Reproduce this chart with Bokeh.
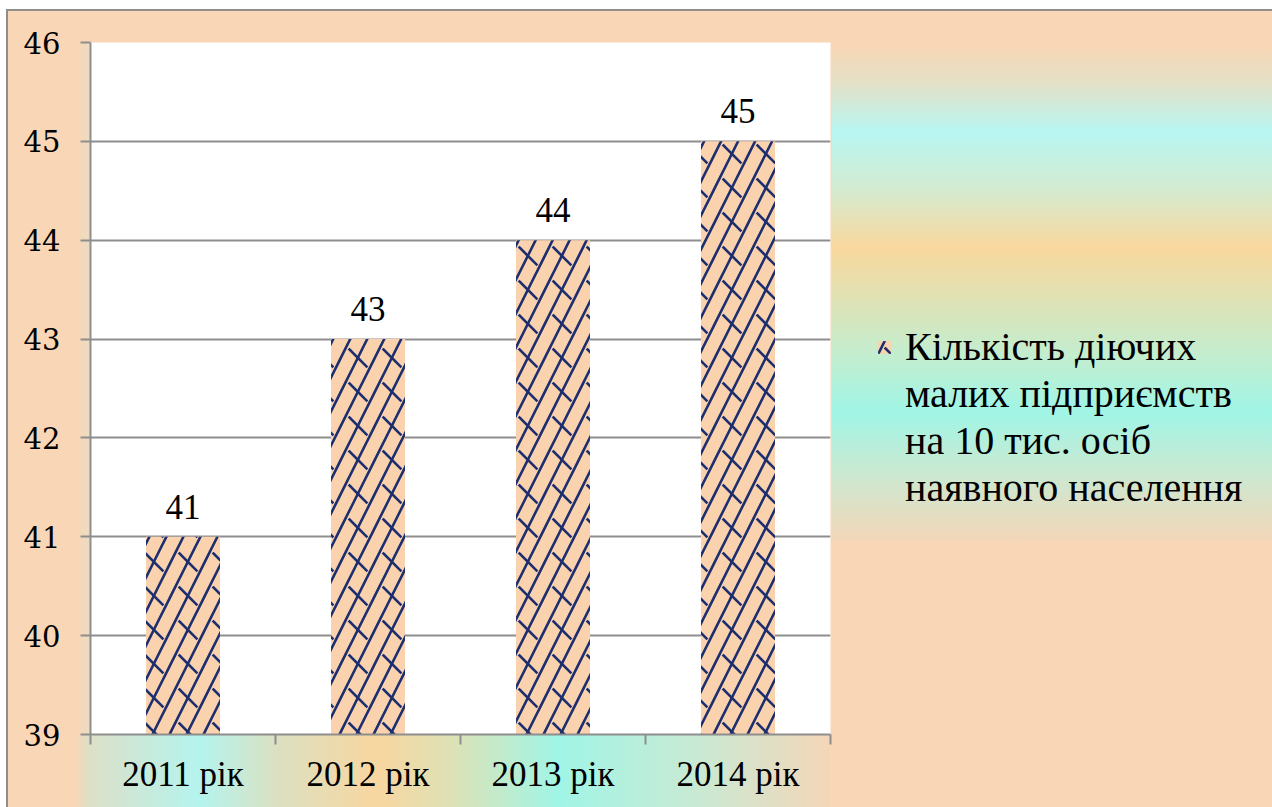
from bokeh.plotting import figure
from bokeh.layouts import row
from bokeh.models import (ColumnDataSource, Range1d, FixedTicker, LabelSet,
                          Legend, LegendItem)
from bokeh.embed import file_html
from bokeh.resources import INLINE

# ---- data -------------------------------------------------------------
years = ["2011 рік", "2012 рік", "2013 рік", "2014 рік"]
enterprises = [41, 43, 44, 45]
series_lines = ["Кількість діючих", "малих підприємств",
                "на 10 тис. осіб", "наявного населення"]
y_ticks = [39, 40, 41, 42, 43, 44, 45, 46]

# ---- styling ----------------------------------------------------------
SERIF = "Liberation Serif, Times New Roman, DejaVu Serif, serif"
NUM_SERIF = "DejaVu Serif"
PEACH = "#F9D6B6"
BAR_FILL = "#FAD3AE"
HATCH = "#1D2E6E"
GRID = "#8E8E8E"

W, H = 1272, 807
FRAME_L, FRAME_R, FRAME_T, FRAME_B = 90, 830, 42, 734
CHART_W = FRAME_R + 2          # chart figure width; the key panel fills the rest
KEY_W = W - CHART_W

bar_style = dict(fill_color=BAR_FILL, line_color=None,
                 hatch_pattern="right_diagonal_line", hatch_color=HATCH,
                 hatch_scale=34, hatch_weight=2.6)
stub_style = dict(fill_color=None, line_color=None,
                  hatch_pattern="left_diagonal_dash", hatch_color=HATCH,
                  hatch_scale=34, hatch_weight=2.6)


def solid(c):
    return f"linear-gradient({c},{c})"


def css_layers(layers):
    return {
        "background-color": "white",
        "background-image": ", ".join(l[0] for l in layers),
        "background-position": ", ".join(l[1] for l in layers),
        "background-size": ", ".join(l[2] for l in layers),
        "background-repeat": "no-repeat",
    }


right_band = ("linear-gradient(to bottom, #FAD6B4 0%, #E4E0C6 8%, #B8F6F2 18%, "
              "#D2ECD2 29%, #F9D89E 41%, #DEE2B6 52%, #C2EED0 63%, #A0F5E6 74%, "
              "#CDE8D0 87%, #F4D6B8 100%)")
bottom_band = ("linear-gradient(to right, #F9D6B6 0%, #DCE0C8 2%, #B4F4EE 16.5%, "
               "#DCE0C0 27%, #F8D6A0 40%, #DDE2B6 50%, #A0F5E6 64%, "
               "#C8EAD4 82%, #F4D6B8 100%)")
left_strip = "linear-gradient(to right, #F9D6B6, #ECDCC2)"

# ---- chart ------------------------------------------------------------
x_pos = [i + 0.5 for i in range(len(years))]
src = ColumnDataSource(dict(
    x=x_pos,
    top=enterprises,
    label=[str(v) for v in enterprises],
))

p = figure(
    width=CHART_W, height=H,
    x_range=Range1d(0, len(years)),
    y_range=Range1d(y_ticks[0], y_ticks[-1]),
    output_backend="svg", toolbar_location=None,
    min_border=0,
    min_border_left=FRAME_L, min_border_right=CHART_W - FRAME_R,
    min_border_top=FRAME_T, min_border_bottom=H - FRAME_B,
)
p.border_fill_color = None
p.background_fill_color = "white"
p.outline_line_color = None
p.styles = css_layers([
    (solid("#8E8E8E"), "6px 10px", "2px 797px"),
    (solid("#8E8E8E"), "6px 9px", f"{CHART_W}px 2px"),
    (bottom_band, f"75px {FRAME_B + 1}px", f"{FRAME_R - 75}px {H - FRAME_B}px"),
    (left_strip, f"75px {FRAME_T}px", f"{FRAME_L - 75}px {FRAME_B - FRAME_T}px"),
    (solid(PEACH), "8px 11px", f"{CHART_W}px {H - 11}px"),
])

# bars: peach fill with long "/" strokes plus "\" stubs (brick-like weave)
base = y_ticks[0]
bars = p.vbar(x="x", top="top", bottom=base, width=0.4, source=src, **bar_style)
p.vbar(x="x", top="top", bottom=base, width=0.4, source=src, **stub_style)

# value labels above the bars
p.add_layout(LabelSet(x="x", y="top", text="label", source=src,
                      y_offset=18, text_align="center", text_baseline="bottom",
                      text_font=NUM_SERIF, text_font_size="35px",
                      text_color="black"))

p.xgrid.visible = False
p.ygrid.grid_line_color = GRID
p.ygrid.grid_line_width = 2
p.ygrid.ticker = FixedTicker(ticks=y_ticks)

xa = p.xaxis[0]
xa.ticker = FixedTicker(ticks=x_pos, minor_ticks=list(range(len(years) + 1)))
xa.major_label_overrides = {x: lab for x, lab in zip(x_pos, years)}
xa.major_tick_out = 0
xa.major_tick_in = 0
xa.minor_tick_out = 10
xa.minor_tick_in = 0
xa.minor_tick_line_color = GRID
xa.minor_tick_line_width = 2
xa.axis_line_color = GRID
xa.axis_line_width = 2
xa.major_label_text_font = SERIF
xa.major_label_text_font_size = "35px"
xa.major_label_text_color = "black"
xa.major_label_standoff = 10

ya = p.yaxis[0]
ya.ticker = FixedTicker(ticks=y_ticks, minor_ticks=[])
ya.major_tick_out = 10
ya.major_tick_in = 0
ya.major_tick_line_color = GRID
ya.major_tick_line_width = 2
ya.axis_line_color = GRID
ya.axis_line_width = 2
ya.minor_tick_line_color = None
ya.major_label_text_font = NUM_SERIF
ya.major_label_text_font_size = "29px"
ya.major_label_text_color = "black"
ya.major_label_standoff = 20

# ---- key panel ----------------------------------------------------------
k = figure(
    width=KEY_W, height=H,
    x_range=Range1d(0, 1), y_range=Range1d(0, 1),
    output_backend="svg", toolbar_location=None, min_border=0,
)
k.axis.visible = False
k.grid.visible = False
k.border_fill_color = None
k.background_fill_color = None
k.outline_line_color = None
k.styles = css_layers([
    (solid("#8E8E8E"), "0px 9px", f"{KEY_W}px 2px"),
    (right_band, f"0px {FRAME_T}px", f"{KEY_W}px 500px"),
    (solid(PEACH), "0px 11px", f"{KEY_W}px {H - 11}px"),
])

# hidden copies of the bar series; the legend draws its swatch from them
swatch = k.vbar(x="x", top="top", bottom=base, width=0.4, source=src,
                visible=False, **bar_style)
swatch_stub = k.vbar(x="x", top="top", bottom=base, width=0.4, source=src,
                     visible=False, **stub_style)

items = [LegendItem(label=series_lines[0], renderers=[swatch, swatch_stub], index=0)]
items += [LegendItem(label=line, renderers=[]) for line in series_lines[1:]]
legend = Legend(
    items=items,
    location=(876 - CHART_W, 223),
    background_fill_alpha=0, border_line_color=None,
    inactive_fill_alpha=0,
    padding=0, margin=0, spacing=0,
    glyph_width=16, glyph_height=16, label_standoff=13,
    label_text_font=SERIF, label_text_font_size="40px",
    label_text_color="black",
)
k.add_layout(legend)

layout = row(p, k, spacing=0)
open("out.html", "w").write(file_html(layout, INLINE))
